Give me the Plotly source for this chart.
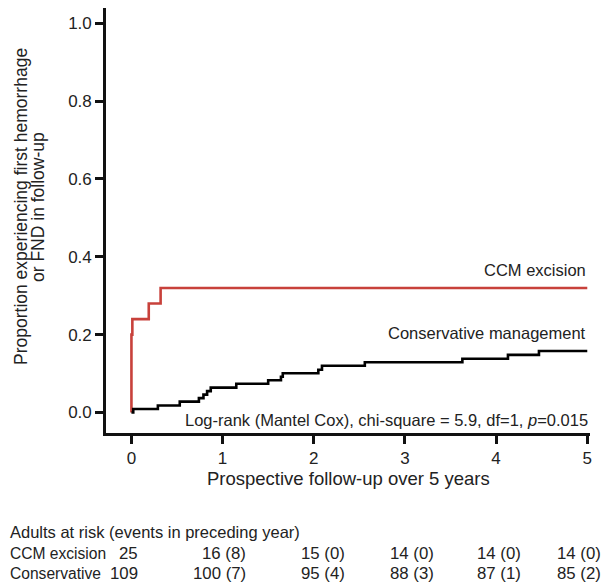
import plotly.graph_objects as go

# ---- data ----
ccm_time = [0, 0, 0.01, 0.19, 0.32, 5.0]
ccm_prop = [0, 0.20, 0.24, 0.28, 0.32, 0.32]

cons_time = [0, 0.02, 0.29, 0.53, 0.74, 0.79, 0.83, 0.87, 1.15, 1.50, 1.64, 1.66,
             2.05, 2.09, 2.56, 3.63, 4.13, 4.47, 5.0]
cons_prop = [0, 0.009, 0.018, 0.028, 0.037, 0.046, 0.055, 0.064, 0.074, 0.083, 0.092,
             0.101, 0.110, 0.120, 0.129, 0.138, 0.148, 0.158, 0.158]

x_ticks = [0, 1, 2, 3, 4, 5]
y_ticks = [0.0, 0.2, 0.4, 0.6, 0.8, 1.0]

table_title = "Adults at risk (events in preceding year)"
row_labels = ["CCM excision", "Conservative"]
ccm_at_risk = ["25", "16 (8)", "15 (0)", "14 (0)", "14 (0)", "14 (0)"]
cons_at_risk = ["109", "100 (7)", "95 (4)", "88 (3)", "87 (1)", "85 (2)"]

RED = "#c8413b"
TXT = "#222222"
FONT = "Liberation Sans, Arial, sans-serif"

OFF = 8  # default page body margin
W, H = 607, 577
L, R, T, B = 98, 25, 0, 152
PW, PH = W - L - R, H - T - B


def px(x):
    return (x - OFF - L) / PW


def py(y):
    return (H - B - (y - OFF)) / PH


fig = go.Figure()
fig.add_trace(go.Scatter(x=ccm_time, y=ccm_prop, mode="lines", line_shape="hv",
                         line=dict(color=RED, width=2.6), showlegend=False,
                         name="CCM excision"))
fig.add_trace(go.Scatter(x=cons_time, y=cons_prop, mode="lines", line_shape="hv",
                         line=dict(color="#000000", width=2.6), showlegend=False,
                         name="Conservative management"))

ann = []
ann.append(dict(text="CCM excision", x=px(588), y=py(270), xanchor="right", yanchor="middle",
                font=dict(size=16.5)))
ann.append(dict(text="Conservative management", x=px(588), y=py(333), xanchor="right",
                yanchor="middle", font=dict(size=16.5)))
ann.append(dict(text="Log-rank (Mantel Cox), chi-square = 5.9, df=1, <i>p</i>=0.015",
                x=px(590), y=py(420), xanchor="right", yanchor="middle", font=dict(size=16.5)))
ann.append(dict(text="Prospective follow-up over 5 years", x=px(348), y=py(478),
                xanchor="center", yanchor="middle", font=dict(size=18.5)))
ann.append(dict(text="Proportion experiencing first hemorrhage", x=px(21), y=py(207),
                xanchor="center", yanchor="middle", textangle=-90, font=dict(size=17.5)))
ann.append(dict(text="or FND in follow-up", x=px(38), y=py(207),
                xanchor="center", yanchor="middle", textangle=-90, font=dict(size=17.5)))

ann.append(dict(text=table_title, x=px(8), y=py(532), xanchor="left", yanchor="middle",
                font=dict(size=16.5)))
row_y = [553, 573]
col_right = [140, 248, 347, 436, 523, 603]
for lab, vals, yy in zip(row_labels, [ccm_at_risk, cons_at_risk], row_y):
    ann.append(dict(text=lab, x=px(8), y=py(yy), xanchor="left", yanchor="middle",
                    font=dict(size=15.6)))
    for v, xr in zip(vals, col_right):
        ann.append(dict(text=v, x=px(xr), y=py(yy), xanchor="right", yanchor="middle",
                        font=dict(size=16.8)))

for a in ann:
    a.update(xref="paper", yref="paper", showarrow=False)
    a["font"].update(color=TXT, family=FONT)

fig.update_layout(
    width=W, height=H,
    margin=dict(l=L, r=R, t=T, b=B),
    paper_bgcolor="white", plot_bgcolor="white",
    font=dict(family=FONT, color=TXT, size=16),
    annotations=ann,
    showlegend=False,
)
fig.update_xaxes(range=[-0.279, 5.03], tickvals=x_ticks, ticks="outside", ticklen=8,
                 tickwidth=2.5, tickcolor="#111", showline=True, linecolor="#111",
                 linewidth=2.6, showgrid=False, zeroline=False,
                 tickfont=dict(size=17, color=TXT))
fig.update_yaxes(range=[-0.0527, 1.0393], tickvals=y_ticks, tickformat=".1f",
                 ticks="outside", ticklen=8, tickwidth=2.5, tickcolor="#111",
                 showline=True, linecolor="#111", linewidth=2.6, showgrid=False,
                 zeroline=False, tickfont=dict(size=17, color=TXT))

fig.write_html("out.html")
